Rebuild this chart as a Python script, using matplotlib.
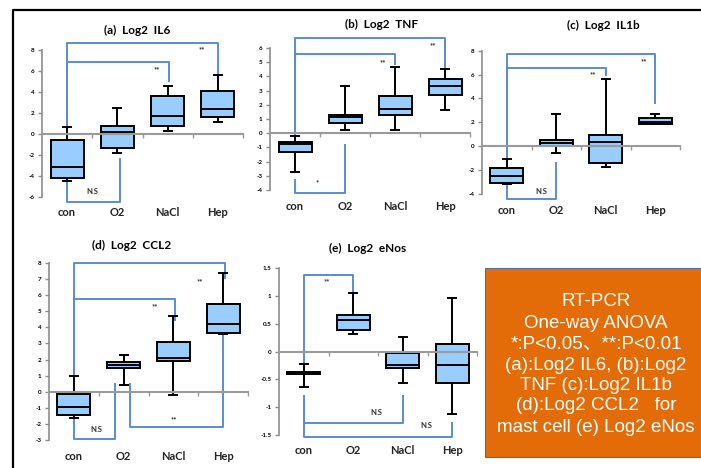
import matplotlib
matplotlib.use("Agg")
import matplotlib.pyplot as plt
from matplotlib.lines import Line2D
from matplotlib.patches import Rectangle
from matplotlib.transforms import blended_transform_factory

W, H = 701, 468

GROUPS = ["con", "O2", "NaCl", "Hep"]

# (whisker low, Q1, median, Q3, whisker high) for each group
IL6 = [(-4.5, -4.2, -3.1, -0.6, 0.7), (-1.8, -1.3, 0.15, 0.8, 2.5),
       (0.3, 0.8, 1.75, 3.6, 4.6), (1.1, 1.6, 2.4, 4.1, 5.6)]
TNF = [(-2.75, -1.3, -0.75, -0.65, -0.2), (0.25, 0.7, 1.15, 1.25, 3.35),
       (0.25, 1.25, 1.7, 2.65, 4.65), (1.6, 2.7, 3.35, 3.8, 4.5)]
IL1B = [(-3.13, -3.07, -2.5, -1.8, -1.1), (-0.6, 0.05, 0.28, 0.5, 2.7),
        (-1.73, -1.37, 0.36, 0.92, 5.6), (1.82, 1.82, 2.07, 2.37, 2.74)]
CCL2 = [(-1.64, -1.47, -0.98, -0.12, 1.0), (0.4, 1.45, 1.68, 1.83, 2.3),
        (-0.23, 1.89, 2.07, 3.09, 4.73), (3.59, 3.67, 4.23, 5.44, 7.39)]
ENOS = [(-0.63, -0.41, -0.38, -0.36, -0.23), (0.31, 0.38, 0.56, 0.65, 1.05),
        (-0.57, -0.29, -0.25, -0.02, 0.26), (-1.12, -0.57, -0.25, 0.14, 0.96)]

# significance brackets: (x1, y1, x2, y2, ybar) and their labels (x, y, text)
IL6_BRACKETS = [(1, 0.7, 4, 5.6, 8.67), (1, 0.7, 3.03, 5.05, 6.86), (1, -4.5, 2.05, -2.4, -6.5)]
IL6_MARKS = [(3.68, 8.0, "**"), (2.79, 6.1, "**"), (1.51, -5.5, "N.S")]
TNF_BRACKETS = [(1, -0.2, 4, 4.55, 6.7), (1, -0.2, 3, 4.9, 5.55), (1, -3.3, 2, -0.85, -4.2)]
TNF_MARKS = [(3.76, 6.2, "**"), (2.76, 5.0, "**"), (1.44, -3.45, "*")]
IL1B_BRACKETS = [(1, -1.1, 4, 3.6, 7.7), (1, -1.1, 3, 5.95, 6.56), (1, -3.3, 2, -1.37, -4.4)]
IL1B_MARKS = [(3.77, 7.1, "**"), (2.74, 6.0, "**"), (1.69, -3.8, "N.S")]
CCL2_BRACKETS = [(1, 1.0, 4.04, 7.07, 8.0), (1, 1.0, 3.04, 4.48, 5.79),
                 (1, -1.64, 1.83, 0.48, -2.95), (2.13, 0.48, 3.99, 3.65, -2.2)]
CCL2_MARKS = [(3.54, 6.87, "**"), (2.63, 5.27, "**"), (1.46, -2.32, "N.S"), (3.0, -1.74, "**")]
ENOS_BRACKETS = [(1, -0.23, 2, 1.02, 1.38), (1, -0.8, 3, -0.8, -1.28), (1, -0.8, 4, -1.29, -1.53)]
ENOS_MARKS = [(1.46, 1.25, "**"), (2.47, -1.1, "N.S"), (3.48, -1.33, "N.S")]

BOX_LINES = ["RT-PCR", "One-way ANOVA", "*:P<0.05\u3001**:P<0.01", "(a):Log2 IL6, (b):Log2",
             "TNF (c):Log2 IL1b", "(d):Log2 CCL2   for", "mast cell (e) Log2 eNos"]

BOX_FACE = "#99CCFF"
BRACKET = "#5B8CD2"
LABEL_FONT = ["Lato", "DejaVu Sans"]


def px_rect(x0, x1, ytop, ybot):
    return [x0 / W, 1 - ybot / H, (x1 - x0) / W, (ybot - ytop) / H]


PANELS = [
    dict(data=IL6, brackets=IL6_BRACKETS, marks=IL6_MARKS, ylim=(-6, 8), step=2,
         rect=px_rect(42, 243, 50, 197), title="(a)  Log2  IL6", tpos=(137, 30)),
    dict(data=TNF, brackets=TNF_BRACKETS, marks=TNF_MARKS, ylim=(-4, 6), step=1,
         rect=px_rect(270, 470, 48, 190), title="(b)  Log2  TNF", tpos=(382, 24)),
    dict(data=IL1B, brackets=IL1B_BRACKETS, marks=IL1B_MARKS, ylim=(-4, 8), step=2,
         rect=px_rect(482, 680, 50.7, 194), title="(c)  Log2  IL1b", tpos=(603, 25)),
    dict(data=CCL2, brackets=CCL2_BRACKETS, marks=CCL2_MARKS, ylim=(-3, 8), step=1,
         rect=px_rect(49, 248, 263, 440), title="(d)  Log2  CCL2", tpos=(132, 245)),
    dict(data=ENOS, brackets=ENOS_BRACKETS, marks=ENOS_MARKS, ylim=(-1.5, 1.5), step=0.5,
         rect=px_rect(279, 477, 268, 435), title="(e)  Log2  eNos", tpos=(368, 248)),
]


def draw_panel(fig, p):
    ax = fig.add_axes(p["rect"])
    stats = [dict(whislo=lo, q1=q1, med=med, q3=q3, whishi=hi, fliers=[])
             for lo, q1, med, q3, hi in p["data"]]
    ax.bxp(stats, positions=[1, 2, 3, 4], widths=0.66, capwidths=0.16,
           patch_artist=True, showfliers=False,
           boxprops=dict(facecolor=BOX_FACE, edgecolor="black", linewidth=1.4),
           medianprops=dict(color="black", linewidth=1.4),
           whiskerprops=dict(color="black", linewidth=1.4),
           capprops=dict(color="black", linewidth=1.4))

    for x1, y1, x2, y2, ybar in p["brackets"]:
        ax.plot([x1, x1, x2, x2], [y1, ybar, ybar, y2], color=BRACKET,
                linewidth=1.4, clip_on=False, zorder=1)
    for x, y, txt in p["marks"]:
        ax.text(x, y, txt, fontsize=5.5, fontweight="bold", color="#333333",
                ha="center", va="center", family=LABEL_FONT)

    lo, hi = p["ylim"]
    ax.set_xlim(0.5, 4.5)
    ax.set_ylim(lo, hi)
    n = int(round((hi - lo) / p["step"]))
    ticks = [lo + i * p["step"] for i in range(n + 1)]
    ax.set_yticks(ticks)
    ax.set_yticklabels([f"{t:g}" for t in ticks], fontsize=4.5, fontweight="bold",
                       family=LABEL_FONT)
    ax.set_xticks([1.5, 2.5, 3.5, 4.5])
    ax.set_xticklabels([])

    for side in ("top", "right"):
        ax.spines[side].set_visible(False)
    ax.spines["left"].set_color("#8C8C8C")
    ax.spines["left"].set_linewidth(1.2)
    ax.spines["bottom"].set_position(("data", 0))
    ax.spines["bottom"].set_color("#9A9A9A")
    ax.spines["bottom"].set_linewidth(1.5)
    ax.tick_params(axis="y", direction="out", length=3, width=1.0, color="#8C8C8C", pad=2.5)
    ax.tick_params(axis="x", direction="out", length=3, width=1.0, color="#9A9A9A")
    ax.patch.set_visible(False)

    trans = blended_transform_factory(ax.transData, ax.transAxes)
    for i, g in enumerate(GROUPS):
        ax.annotate(g, xy=(i + 1, 0), xycoords=trans, xytext=(0, -16),
                    textcoords="offset pixels", ha="center", va="center",
                    fontsize=8, fontweight="bold", color="#222222", family=LABEL_FONT)

    fig.text(p["tpos"][0] / W, 1 - p["tpos"][1] / H, p["title"], ha="center", va="center",
             fontsize=8.5, fontweight="bold", family=LABEL_FONT)


fig = plt.figure(figsize=(W / 100, H / 100), dpi=100)

for p in PANELS:
    draw_panel(fig, p)

# outer frame (left and top edges)
fig.add_artist(Line2D([13 / W, 13 / W, 1.0], [0.0, 1 - 10 / H, 1 - 10 / H],
                      color="black", linewidth=1.6, transform=fig.transFigure))

# orange summary box
fig.add_artist(Rectangle((485 / W, 1 - 457 / H), 220 / W, 189 / H, transform=fig.transFigure,
                         facecolor="#E36C09", edgecolor="#4F6F9F", linewidth=0.8))
line_y = [302, 323.5, 344, 365, 385.5, 406, 427]
for txt, y in zip(BOX_LINES, line_y):
    fig.text(596 / W, 1 - y / H, txt, ha="center", va="center", color="white",
             fontsize=13.5, family=["Liberation Sans", "Noto Sans CJK JP"])

fig.savefig("out.png", dpi=100)
